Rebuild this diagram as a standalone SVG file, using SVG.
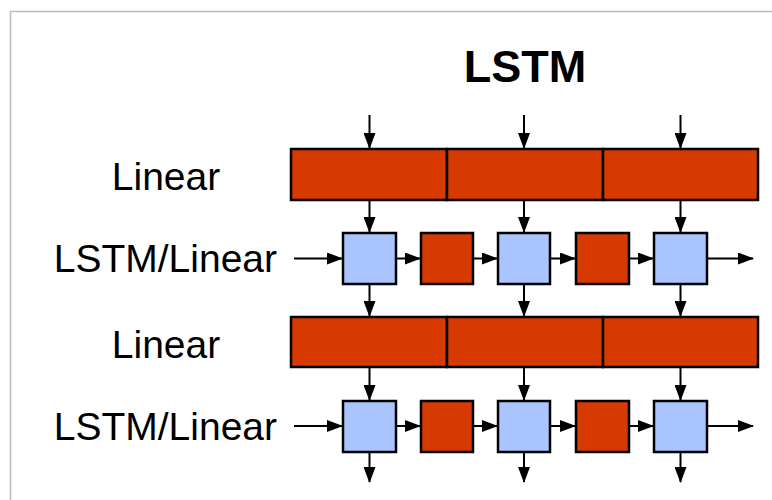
<svg xmlns="http://www.w3.org/2000/svg" width="772" height="500" viewBox="0 0 772 500">
<style>
.lbl{font-family:"Liberation Sans",Arial,sans-serif;font-size:39px;fill:#000}
.title{font-family:"Liberation Sans",Arial,sans-serif;font-size:45px;font-weight:bold;fill:#000}
.bar{fill:#D63A00;stroke:#000;stroke-width:2.5}
.red{fill:#D63A00;stroke:#000;stroke-width:2.5}
.blue{fill:#AAC4FF;stroke:#000;stroke-width:2.5}
.c{stroke:#000;stroke-width:2;fill:none;marker-end:url(#ah)}
</style>
<defs>
<marker id="ah" markerUnits="userSpaceOnUse" markerWidth="16" markerHeight="12" refX="15" refY="6" orient="auto">
<path d="M0,0 L16,6 L0,12 z" fill="#000"/>
</marker>
</defs>
<rect width="772" height="500" fill="#fff"/>
<path d="M10.5,500 V11.5 H772" fill="none" stroke="#bbb" stroke-width="1.5"/>
<text class="title" x="525" y="82" text-anchor="middle">LSTM</text>
<g id="labels">
<text class="lbl" x="166" y="190" text-anchor="middle">Linear</text>
<text class="lbl" x="277" y="272" text-anchor="end">LSTM/Linear</text>
<text class="lbl" x="166" y="358" text-anchor="middle">Linear</text>
<text class="lbl" x="277" y="440" text-anchor="end">LSTM/Linear</text>
</g>
<g id="linear1">
<rect class="bar" x="291" y="149" width="156" height="51"/>
<rect class="bar" x="447" y="149" width="156" height="51"/>
<rect class="bar" x="603" y="149" width="155" height="51"/>
</g>
<g id="linear2">
<rect class="bar" x="291" y="317" width="156" height="50"/>
<rect class="bar" x="447" y="317" width="156" height="50"/>
<rect class="bar" x="603" y="317" width="155" height="50"/>
</g>
<g id="row1">
<rect class="blue" x="343" y="233" width="53" height="51"/>
<rect class="red" x="421" y="233" width="52" height="51"/>
<rect class="blue" x="498" y="233" width="52" height="51"/>
<rect class="red" x="576" y="233" width="53" height="51"/>
<rect class="blue" x="654" y="233" width="53" height="51"/>
</g>
<g id="row2">
<rect class="blue" x="343" y="401" width="53" height="51"/>
<rect class="red" x="421" y="401" width="52" height="51"/>
<rect class="blue" x="498" y="401" width="52" height="51"/>
<rect class="red" x="576" y="401" width="53" height="51"/>
<rect class="blue" x="654" y="401" width="53" height="51"/>
</g>
<g id="connectors">
<path class="c" d="M369.5,115 V148"/>
<path class="c" d="M524,115 V148"/>
<path class="c" d="M680.5,115 V148"/>
<path class="c" d="M369.5,200 V232"/>
<path class="c" d="M524,200 V232"/>
<path class="c" d="M680.5,200 V232"/>
<path class="c" d="M369.5,284 V316"/>
<path class="c" d="M524,284 V316"/>
<path class="c" d="M680.5,284 V316"/>
<path class="c" d="M369.5,367 V400"/>
<path class="c" d="M524,367 V400"/>
<path class="c" d="M680.5,367 V400"/>
<path class="c" d="M369.5,452 V482"/>
<path class="c" d="M524,452 V482"/>
<path class="c" d="M680.5,452 V482"/>
<path class="c" d="M294,258.5 H342"/>
<path class="c" d="M396,258.5 H420"/>
<path class="c" d="M473,258.5 H497"/>
<path class="c" d="M550,258.5 H575"/>
<path class="c" d="M629,258.5 H653"/>
<path class="c" d="M707,258.5 H753"/>
<path class="c" d="M294,426 H342"/>
<path class="c" d="M396,426 H420"/>
<path class="c" d="M473,426 H497"/>
<path class="c" d="M550,426 H575"/>
<path class="c" d="M629,426 H653"/>
<path class="c" d="M707,426 H753"/>
</g>
</svg>
